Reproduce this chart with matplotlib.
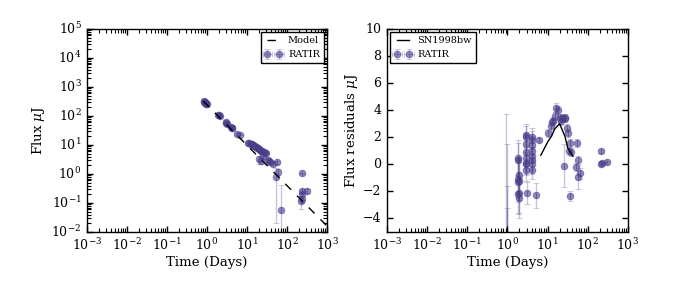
import matplotlib
matplotlib.use("Agg")
import matplotlib.pyplot as plt
from matplotlib.ticker import LogLocator, NullFormatter
import numpy as np

plt.style.use('classic')
plt.rcParams['font.family'] = ['DejaVu Serif']
plt.rcParams['mathtext.fontset'] = 'dejavuserif'
plt.rcParams['font.size'] = 9

# ---- left panel data: flux light curve ----
flux_t = [0.82, 0.85, 0.88, 0.90, 0.93, 0.97, 1.0,
          1.9, 2.0, 2.05, 2.9, 3.0, 3.1, 4.0, 4.2, 4.3, 5.5, 6.5,
          10.5, 11.5, 12.5, 13, 14, 15, 16, 17, 18, 19, 20, 21, 22, 24, 26, 28, 30,
          25, 20, 22, 33, 35, 38, 45, 55, 52, 60, 69,
          230, 230, 235, 225, 230, 310]
flux_f = [300, 320, 290, 310, 280, 260, 250,
          110, 105, 100, 62, 58, 55, 43, 40, 38, 24, 23,
          12, 11.5, 11, 10.5, 10, 9.6, 9, 8.5, 8, 7.6, 7.2, 6.8, 6.4, 6.0, 5.7, 5.4, 5.2,
          4.2, 3.3, 2.9, 3.0, 2.8, 2.6, 2.3, 2.6, 0.82, 1.2, 0.057,
          1.05, 0.27, 0.2, 0.12, 0.14, 0.26]
flux_e = [10, 10, 10, 10, 10, 10, 10,
          4, 4, 4, 2, 2, 2, 1.5, 1.5, 1.5, 1, 1,
          0.5, 0.5, 0.5, 0.5, 0.4, 0.4, 0.4, 0.4, 0.3, 0.3, 0.3, 0.3, 0.3, 0.3, 0.3, 0.3, 0.3,
          0.5, 1.0, 0.6, 0.4, 0.4, 0.4, 0.3, 0.3, 0.80, 0.3, 0.35,
          0.05, 0.04, 0.04, 0.06, 0.04, 0.04]
model_t = [0.8, 1000]
model_f = [330, 0.016]

# ---- right panel data: flux residuals ----
res_t = [0.95, 0.97, 1.0, 0.98,
         1.85, 1.85, 1.9, 1.85, 1.9, 1.85, 1.9, 1.85, 1.9,
         2.87, 2.87, 2.9, 2.87, 2.9, 2.87, 2.9, 2.87, 3.1,
         4.0, 4.0, 4.1, 4.0, 4.1, 4.0, 4.1, 4.0,
         6.2, 5.1,
         10.4, 12, 12.7, 13.6, 15, 16.5, 18, 20, 21.5, 23, 27, 28, 25.6,
         30, 32, 35, 38, 36, 55, 52, 58, 56, 66, 36,
         221, 215, 225, 295]
res_r = [-5.5, -6.5, -7.0, -8.0,
         0.35, 0.5, -0.8, -1.1, -1.2, -1.3, -2.1, -2.2, -2.5,
         2.2, 2.0, 1.5, 0.9, 0.5, 0.1, 0.0, -0.4, -2.1,
         2.0, 1.8, 1.4, 1.0, 0.6, 0.3, 0.0, -0.4,
         1.82, -2.3,
         2.3, 2.8, 3.1, 3.2, 3.6, 4.2, 4.0, 3.4, 3.2, 3.4, 3.4, 3.4, -0.1,
         2.7, 2.3, 1.0, 0.9, 1.6, 1.6, -0.2, 0.3, -0.95, -0.65, -2.35,
         0.95, 0.05, 0.1, 0.18]
res_e = [9.2, 8.0, 5.4, 4.8,
         1.2, 1.3, 1.3, 1.4, 1.4, 1.5, 1.5, 1.5, 1.5,
         0.8, 0.8, 0.8, 0.8, 0.8, 0.8, 0.8, 0.8, 0.8,
         0.7, 0.7, 0.7, 0.7, 0.7, 0.7, 0.7, 0.7,
         0.1, 0.9,
         0.3, 0.3, 0.3, 0.3, 0.3, 0.3, 0.3, 0.3, 0.3, 0.3, 0.3, 0.3, 1.6,
         0.3, 0.3, 0.3, 0.3, 0.3, 0.3, 0.3, 0.3, 0.9, 0.4, 0.35,
         0.1, 0.1, 0.1, 0.1]
sn_t = [6.8, 10.3, 12.7, 15, 20, 27, 32, 39, 43]
sn_r = [0.67, 1.7, 2.1, 2.6, 3.0, 2.1, 1.2, 0.8, 0.6]

pt_color = '#483D8B'

fig = plt.figure(figsize=(6.98, 2.91), dpi=100, facecolor='white')
ax1 = fig.add_axes([0.1246, 0.2027, 0.344, 0.6976])
ax2 = fig.add_axes([0.5544, 0.2027, 0.345, 0.6976])


def draw_points(ax, t, y, e):
    eb = ax.errorbar(t, y, yerr=e, xerr=0.05, fmt='o', color=pt_color,
                     mec=pt_color, mew=0.6, ms=4.8, alpha=0.6,
                     capsize=2.5, label='RATIR', elinewidth=1)
    for ln in eb[2]:
        ln.set_alpha(0.3)
    for c in eb[1]:
        c.set_alpha(0.3)
    return eb


def log_ticks(axis):
    axis.set_major_locator(LogLocator(base=10, numticks=20))
    axis.set_minor_locator(LogLocator(base=10, subs=np.arange(2, 10), numticks=100))
    axis.set_minor_formatter(NullFormatter())


ax1.plot(model_t, model_f, 'k--', label='Model', zorder=5)
draw_points(ax1, flux_t, flux_f, flux_e)
ax1.set_xscale('log')
ax1.set_yscale('log')
ax1.set_xlim(1e-3, 1e3)
ax1.set_ylim(1e-2, 1e5)
log_ticks(ax1.xaxis)
log_ticks(ax1.yaxis)
ax1.set_xlabel('Time (Days)', fontsize=9.6, labelpad=2)
ax1.set_ylabel(r'Flux $\mu$J', fontsize=9.6, labelpad=3)
ax1.legend(loc='upper right', fontsize=7, numpoints=2, handlelength=1.8,
           handletextpad=0.6, borderaxespad=0.35)

ax2.plot(sn_t, sn_r, 'k-', label='SN1998bw', zorder=5)
draw_points(ax2, res_t, res_r, res_e)
ax2.set_xscale('log')
ax2.set_xlim(1e-3, 1e3)
ax2.set_ylim(-5, 10)
log_ticks(ax2.xaxis)
ax2.set_yticks([-4, -2, 0, 2, 4, 6, 8, 10])
ax2.set_xlabel('Time (Days)', fontsize=9.6, labelpad=2)
ax2.set_ylabel(r'Flux residuals $\mu$J', fontsize=9.6, labelpad=2)
ax2.legend(loc='upper left', fontsize=7, numpoints=2, handlelength=1.8,
           handletextpad=0.6, borderaxespad=0.35)

for ax in (ax1, ax2):
    ax.tick_params(which='major', labelsize=9, length=4.5, width=1, pad=4)
    ax.tick_params(which='minor', length=3, width=0.8)

fig.savefig('out.png', dpi=100, facecolor='white')
